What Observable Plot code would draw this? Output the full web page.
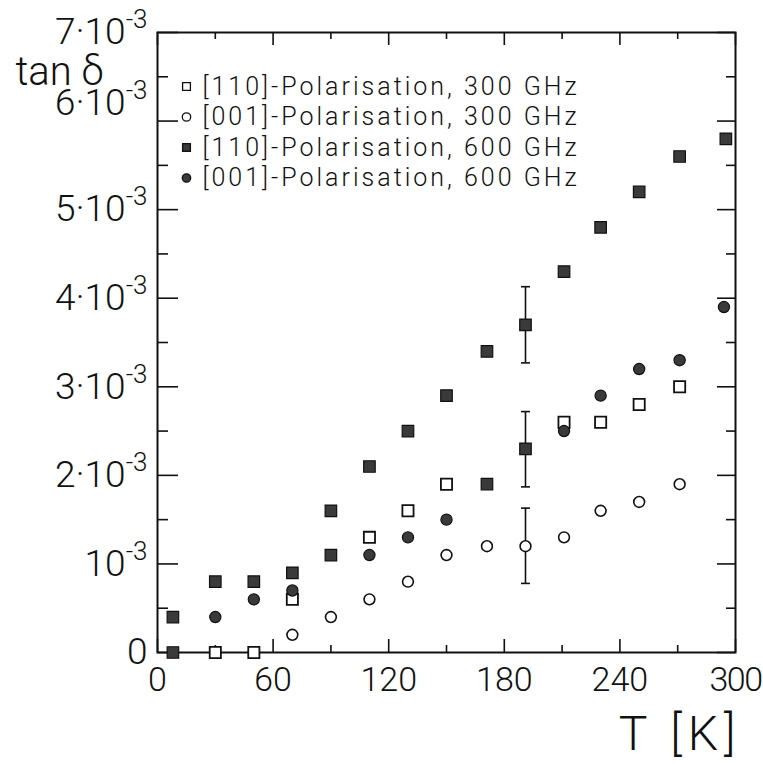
<!DOCTYPE html>
<html><head><meta charset="utf-8">
<script src="https://cdn.jsdelivr.net/npm/d3@7"></script>
<script src="https://cdn.jsdelivr.net/npm/@observablehq/plot@0.6"></script>
<style>body{margin:0;background:#fff;}</style>
</head><body><div id="chart"></div>
<script>
// ---- data (tan δ in units of 10^-3, T in K) ----
const xTicksMajor = [0, 60, 120, 180, 240, 300];
const xTicksMinor = [30, 90, 150, 210, 270];
const xTickLabels = ["0", "60", "120", "180", "240", "300"];
const yTicksMajor = [0, 1, 2, 3, 4, 5, 6, 7];
const yTicksMinor = [0.5, 1.5, 2.5, 3.5, 4.5, 5.5, 6.5];
const yTickLabels = ["0", "10^-3", "2·10^-3", "3·10^-3", "4·10^-3", "5·10^-3", "6·10^-3", "7·10^-3"];
const xLabel = "T [K]";
const yLabel = "tan δ";

const seriesNames = [
  "[110]-Polarisation, 300 GHz",
  "[001]-Polarisation, 300 GHz",
  "[110]-Polarisation, 600 GHz",
  "[001]-Polarisation, 600 GHz"
];
// [110] 300 GHz (open squares)
const s110_300_T = [30, 50, 70, 110, 130, 150, 211, 230, 250, 271];
const s110_300_v = [0, 0, 0.6, 1.3, 1.6, 1.9, 2.6, 2.6, 2.8, 3.0];
// [001] 300 GHz (open circles)
const s001_300_T = [70, 90, 110, 130, 150, 171, 191, 211, 230, 250, 271];
const s001_300_v = [0.2, 0.4, 0.6, 0.8, 1.1, 1.2, 1.2, 1.3, 1.6, 1.7, 1.9];
// [110] 600 GHz (filled squares)
const s110_600_T = [8, 30, 50, 70, 90, 110, 130, 150, 171, 191, 211, 230, 250, 271, 295];
const s110_600_v = [0.4, 0.8, 0.8, 0.9, 1.6, 2.1, 2.5, 2.9, 3.4, 3.7, 4.3, 4.8, 5.2, 5.6, 5.8];
// [001] 600 GHz (filled circles)
const s001_600_T = [30, 50, 70, 110, 130, 150, 211, 230, 250, 271, 294];
const s001_600_v = [0.4, 0.6, 0.7, 1.1, 1.3, 1.5, 2.5, 2.9, 3.2, 3.3, 3.9];
// further filled squares drawn in the figure
const extraSq_T = [8, 90, 171, 191];
const extraSq_v = [0, 1.1, 1.9, 2.3];
// error bars
const err_T = [191, 191, 191];
const err_lo = [3.27, 1.87, 0.78];
const err_hi = [4.13, 2.72, 1.63];

// ---- layout ----
const W = 763, H = 765;
const mL = 157, mR = 28, mT = 32, mB = 113;
const pw = W - mL - mR, ph = H - mT - mB;
const ink = "#111";
const grey = "#3a3a3a";

const zip = (T, v) => T.map((t, i) => ({T: t, v: v[i]}));
const errs = err_T.map((t, i) => ({T: t, lo: err_lo[i], hi: err_hi[i]}));
const capSymbol = {draw(ctx, size) { const w = 4.5; ctx.moveTo(-w, 0); ctx.lineTo(w, 0); }};

const legendMarks = [];
const legendSym = [
  {symbol: "square", fill: "white", r: 4.4},
  {symbol: "circle", fill: "white", r: 4.2},
  {symbol: "square", fill: grey, r: 4.4},
  {symbol: "circle", fill: grey, r: 4.2}
];
seriesNames.forEach((name, i) => {
  const dyRow = 54 + i * 30.5;
  legendMarks.push(Plot.dot([name], {frameAnchor: "top-left", dx: 29, dy: dyRow, symbol: legendSym[i].symbol, r: legendSym[i].r, fill: legendSym[i].fill, stroke: ink, strokeWidth: 1.3}));
  legendMarks.push(Plot.text([name], {frameAnchor: "top-left", dx: 45, dy: dyRow, text: d => d, textAnchor: "start", lineAnchor: "middle", fontSize: 25, fill: ink}));
});

const chart = Plot.plot({
  width: W, height: H,
  marginLeft: mL, marginRight: mR, marginTop: mT, marginBottom: mB,
  style: {fontFamily: "Roboto, 'Liberation Sans', sans-serif", fontWeight: 300, background: "white", color: ink},
  x: {domain: [0, 300], axis: null},
  y: {domain: [0, 7], axis: null},
  marks: [
    // inward ticks
    Plot.tickX(xTicksMajor, {x: d => d, insetTop: ph - 13, stroke: ink, strokeWidth: 1.6}),
    Plot.tickX(xTicksMinor, {x: d => d, insetTop: ph - 7, stroke: ink, strokeWidth: 1.6}),
    Plot.tickX(xTicksMajor, {x: d => d, insetBottom: ph - 13, stroke: ink, strokeWidth: 1.6}),
    Plot.tickX(xTicksMinor, {x: d => d, insetBottom: ph - 7, stroke: ink, strokeWidth: 1.6}),
    Plot.tickY(yTicksMajor, {y: d => d, insetRight: pw - 21, stroke: ink, strokeWidth: 1.6}),
    Plot.tickY(yTicksMinor, {y: d => d, insetRight: pw - 11, stroke: ink, strokeWidth: 1.6}),
    Plot.tickY(yTicksMajor, {y: d => d, insetLeft: pw - 18, stroke: ink, strokeWidth: 1.6}),
    Plot.tickY(yTicksMinor, {y: d => d, insetLeft: pw - 9, stroke: ink, strokeWidth: 1.6}),
    Plot.frame({stroke: ink, strokeWidth: 2}),
    // tick labels
    Plot.axisX({ticks: xTicksMajor, tickSize: 0, tickPadding: 14, tickFormat: (d, i) => xTickLabels[i], fontSize: 34, label: null}),
    Plot.axisY({ticks: yTicksMajor, tickSize: 0, tickPadding: 10, tickFormat: (d, i) => yTickLabels[i], fontSize: 37, label: null}),
    // axis titles
    Plot.text([xLabel], {frameAnchor: "bottom-right", dx: 6, dy: 97, text: d => d, textAnchor: "end", lineAnchor: "bottom", fontSize: 48, fill: ink}),
    Plot.text([yLabel], {frameAnchor: "top-left", dx: -142, dy: 52, text: d => d, textAnchor: "start", lineAnchor: "bottom", fontSize: 40, fill: ink}),
    // error bars
    Plot.ruleX(errs, {x: "T", y1: "lo", y2: "hi", stroke: ink, strokeWidth: 1.6}),
    Plot.dot(errs, {x: "T", y: "lo", symbol: capSymbol, stroke: ink, strokeWidth: 1.6}),
    Plot.dot(errs, {x: "T", y: "hi", symbol: capSymbol, stroke: ink, strokeWidth: 1.6}),
    // data
    Plot.dot(zip(s001_300_T, s001_300_v), {x: "T", y: "v", symbol: "circle", r: 5.4, fill: "white", stroke: ink, strokeWidth: 1.6}),
    Plot.dot(zip(s110_300_T, s110_300_v), {x: "T", y: "v", symbol: "square", r: 6.3, fill: "white", stroke: ink, strokeWidth: 1.8}),
    Plot.dot(zip(s110_600_T, s110_600_v), {x: "T", y: "v", symbol: "square", r: 6.5, fill: grey, stroke: ink, strokeWidth: 1.2}),
    Plot.dot(zip(extraSq_T, extraSq_v), {x: "T", y: "v", symbol: "square", r: 6.5, fill: grey, stroke: ink, strokeWidth: 1.2}),
    Plot.dot(zip(s001_600_T, s001_600_v), {x: "T", y: "v", symbol: "circle", r: 5.6, fill: grey, stroke: ink, strokeWidth: 1.2}),
    ...legendMarks
  ]
});
document.getElementById("chart").appendChild(chart);

// superscript exponents in y tick labels; spacing of legend, x labels and x title
d3.select(chart).selectAll("text").each(function() {
  const t = this.textContent;
  const sel = d3.select(this);
  if (t.includes("^")) {
    const [base, exp] = t.split("^");
    sel.text(null);
    sel.append("tspan").text(base);
    sel.append("tspan").attr("font-size", 26).attr("dy", -16).text(exp);
    if (t === yTickLabels[6]) sel.attr("transform", (sel.attr("transform") || "") + " translate(0,-18)");
  }
  if (t.includes("Polarisation")) sel.attr("letter-spacing", 3);
  if (t === xLabel) sel.attr("letter-spacing", 6);
  if (t === xTickLabels[5]) sel.attr("letter-spacing", -1.5);
});
</script></body></html>
